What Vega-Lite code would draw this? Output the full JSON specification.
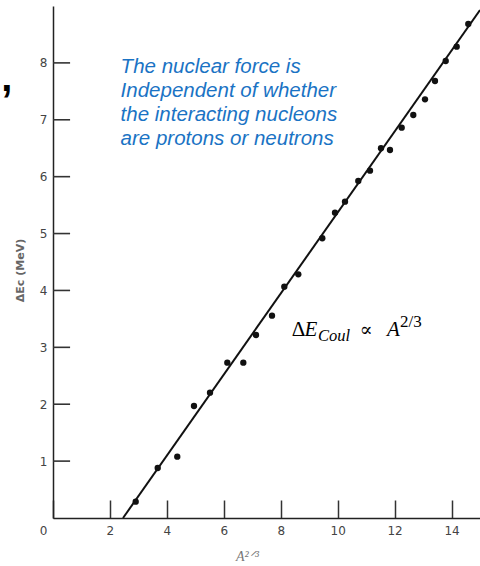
{
  "$schema": "https://vega.github.io/schema/vega-lite/v6.json",
  "width": 427,
  "height": 512,
  "autosize": {"type": "none"},
  "padding": {"left": 53, "top": 6, "right": 0, "bottom": 48},
  "background": "white",
  "config": {
    "view": {"stroke": null},
    "axis": {"grid": false}
  },
  "datasets": {
    "points": [
      {"A23": 2.905, "dE": 0.287},
      {"A23": 3.678, "dE": 0.879},
      {"A23": 4.366, "dE": 1.078},
      {"A23": 4.953, "dE": 1.969},
      {"A23": 5.515, "dE": 2.203},
      {"A23": 6.123, "dE": 2.73},
      {"A23": 6.685, "dE": 2.73},
      {"A23": 7.131, "dE": 3.217},
      {"A23": 7.693, "dE": 3.556},
      {"A23": 8.125, "dE": 4.066},
      {"A23": 8.617, "dE": 4.284},
      {"A23": 9.46, "dE": 4.917},
      {"A23": 9.906, "dE": 5.367},
      {"A23": 10.257, "dE": 5.56},
      {"A23": 10.725, "dE": 5.924},
      {"A23": 11.136, "dE": 6.105},
      {"A23": 11.522, "dE": 6.499},
      {"A23": 11.838, "dE": 6.469},
      {"A23": 12.249, "dE": 6.861},
      {"A23": 12.657, "dE": 7.084},
      {"A23": 13.068, "dE": 7.36},
      {"A23": 13.419, "dE": 7.682},
      {"A23": 13.795, "dE": 8.033},
      {"A23": 14.181, "dE": 8.285},
      {"A23": 14.589, "dE": 8.684}
    ],
    "fit": [
      {"A23": 2.46, "dE": 0},
      {"A23": 15, "dE": 8.93}
    ],
    "yticks": [
      {"dE": 1}, {"dE": 2}, {"dE": 3}, {"dE": 4},
      {"dE": 5}, {"dE": 6}, {"dE": 7}, {"dE": 8}
    ],
    "one": [{"k": 1}]
  },
  "layer": [
    {
      "data": {"name": "fit"},
      "mark": {"type": "line", "color": "#111", "strokeWidth": 2},
      "encoding": {
        "x": {"field": "A23", "type": "quantitative", "scale": {"domain": [0, 15], "nice": false, "zero": false},
          "axis": {
            "title": "A²ᐟ³",
            "titleFont": "Liberation Serif", "titleFontStyle": "italic", "titleFontWeight": "normal",
            "titleFontSize": 14, "titleColor": "#777",
            "titleX": 194, "titleY": 38, "titleBaseline": "middle",
            "values": [0, 2, 4, 6, 8, 10, 12, 14],
            "format": "d",
            "ticks": true,
            "tickSize": -18, "tickWidth": 1.5, "tickColor": "#333",
            "labelPadding": 25, "labelFont": "DejaVu Sans", "labelFontSize": 12, "labelColor": "#444",
            "labelAlign": {"condition": {"test": "datum.value == 0", "value": "right"}, "value": "center"},
            "labelOffset": {"condition": {"test": "datum.value == 0", "value": -6}, "value": 0},
            "domainColor": "#222", "domainWidth": 1.5
          }
        },
        "y": {"field": "dE", "type": "quantitative", "scale": {"domain": [0, 9], "nice": false, "zero": false},
          "axis": {
            "title": "ΔEc (MeV)",
            "titleFont": "DejaVu Sans", "titleFontWeight": "bold", "titleFontSize": 11, "titleColor": "#666",
            "titlePadding": 14, "titleY": 264,
            "values": [1, 2, 3, 4, 5, 6, 7, 8],
            "format": "d",
            "ticks": false,
            "labelPadding": 6,
            "labelFont": "DejaVu Sans", "labelFontSize": 12, "labelColor": "#444",
            "domainColor": "#222", "domainWidth": 1.5
          }
        }
      }
    },
    {
      "data": {"name": "yticks"},
      "mark": {"type": "rule", "color": "#333", "strokeWidth": 1.6},
      "encoding": {
        "y": {"field": "dE", "type": "quantitative"},
        "x": {"datum": 0},
        "x2": {"datum": 0.6}
      }
    },
    {
      "data": {"name": "points"},
      "mark": {"type": "point", "filled": true, "color": "#111", "size": 40, "opacity": 1},
      "encoding": {
        "x": {"field": "A23", "type": "quantitative"},
        "y": {"field": "dE", "type": "quantitative"}
      }
    },
    {
      "data": {"name": "one"},
      "mark": {"type": "text", "text": ["The nuclear force is", "Independent of whether", "the interacting nucleons", "are protons or neutrons"],
        "font": "Liberation Sans", "fontStyle": "italic", "fontSize": 20.5, "lineHeight": 24,
        "color": "#1a73c4", "align": "left", "baseline": "alphabetic"},
      "encoding": {"x": {"datum": 2.375}, "y": {"datum": 7.82}}
    },
    {
      "data": {"name": "one"},
      "mark": {"type": "text", "text": "Δ", "font": "Liberation Serif", "fontSize": 21, "color": "#000", "align": "left", "baseline": "alphabetic"},
      "encoding": {"x": {"datum": 8.385}, "y": {"datum": 3.2}}
    },
    {
      "data": {"name": "one"},
      "mark": {"type": "text", "text": "E", "font": "Liberation Serif", "fontStyle": "italic", "fontSize": 21, "color": "#000", "align": "left", "baseline": "alphabetic"},
      "encoding": {"x": {"datum": 8.835}, "y": {"datum": 3.2}}
    },
    {
      "data": {"name": "one"},
      "mark": {"type": "text", "text": "Coul", "font": "Liberation Serif", "fontStyle": "italic", "fontSize": 16.5, "color": "#000", "align": "left", "baseline": "alphabetic"},
      "encoding": {"x": {"datum": 9.309}, "y": {"datum": 3.11}}
    },
    {
      "data": {"name": "one"},
      "mark": {"type": "text", "text": "∝", "font": "DejaVu Serif", "fontSize": 19, "color": "#000", "align": "left", "baseline": "alphabetic"},
      "encoding": {"x": {"datum": 10.78}, "y": {"datum": 3.2}}
    },
    {
      "data": {"name": "one"},
      "mark": {"type": "text", "text": "A", "font": "Liberation Serif", "fontStyle": "italic", "fontSize": 21, "color": "#000", "align": "left", "baseline": "alphabetic"},
      "encoding": {"x": {"datum": 11.733}, "y": {"datum": 3.2}}
    },
    {
      "data": {"name": "one"},
      "mark": {"type": "text", "text": "2/3", "font": "Liberation Serif", "fontSize": 17, "color": "#000", "align": "left", "baseline": "alphabetic"},
      "encoding": {"x": {"datum": 12.19}, "y": {"datum": 3.36}}
    },
    {
      "data": {"name": "one"},
      "mark": {"type": "text", "text": ",", "font": "Liberation Sans", "fontWeight": "bold", "fontSize": 40, "color": "#000", "align": "left", "baseline": "alphabetic"},
      "encoding": {"x": {"datum": -1.82}, "y": {"datum": 7.506}}
    }
  ]
}
